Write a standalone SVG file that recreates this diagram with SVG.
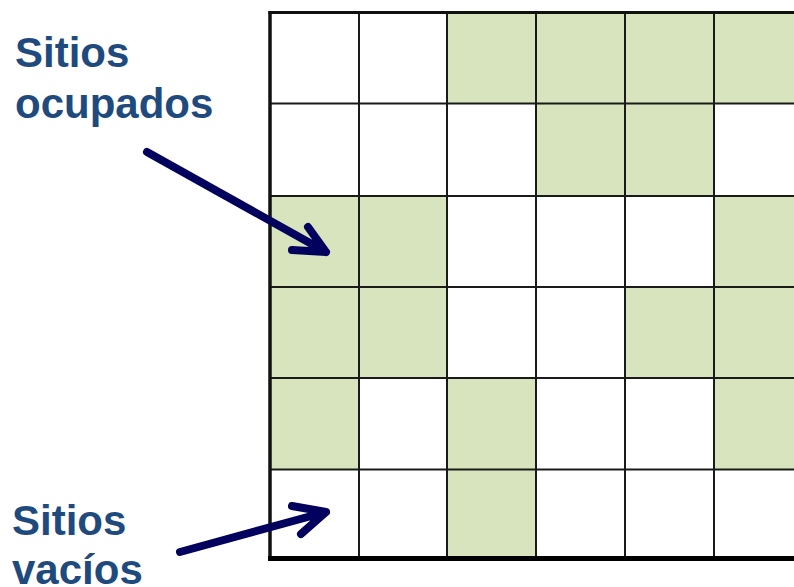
<svg xmlns="http://www.w3.org/2000/svg" width="794" height="587" viewBox="0 0 794 587">
<style>
.g{fill:#d7e4bd}
.ln{stroke:#1a1a1a;stroke-width:2;fill:none}
.lbl{font-family:"Liberation Sans",Arial,sans-serif;font-weight:bold;font-size:42px;fill:#1f4a7e}
.arr{stroke:#02025e;stroke-width:8;fill:none;stroke-linecap:round;stroke-linejoin:round}
</style>
<rect width="794" height="587" fill="#ffffff"/>
<g id="cells">
<rect class="g" x="447" y="12" width="355" height="91.5"/>
<rect class="g" x="536" y="103.5" width="178" height="92.5"/>
<rect class="g" x="270" y="196" width="177" height="182"/>
<rect class="g" x="714" y="196" width="88" height="273.5"/>
<rect class="g" x="625" y="287" width="89" height="91"/>
<rect class="g" x="270" y="378" width="89" height="91.5"/>
<rect class="g" x="447" y="378" width="89" height="180"/>
</g>
<g id="grid">
<line class="ln" x1="359" y1="12" x2="359" y2="558"/>
<line class="ln" x1="447" y1="12" x2="447" y2="558"/>
<line class="ln" x1="536" y1="12" x2="536" y2="558"/>
<line class="ln" x1="625" y1="12" x2="625" y2="558"/>
<line class="ln" x1="714" y1="12" x2="714" y2="558"/>
<line class="ln" x1="270" y1="103.5" x2="802" y2="103.5"/>
<line class="ln" x1="270" y1="196" x2="802" y2="196"/>
<line class="ln" x1="270" y1="287" x2="802" y2="287"/>
<line class="ln" x1="270" y1="378" x2="802" y2="378"/>
<line class="ln" x1="270" y1="469.5" x2="802" y2="469.5"/>
<line stroke="#111" stroke-width="3" x1="268.5" y1="12.5" x2="802" y2="12.5"/>
<line stroke="#111" stroke-width="3.5" x1="270" y1="11" x2="270" y2="561"/>
<line stroke="#000" stroke-width="5" x1="268" y1="558.5" x2="802" y2="558.5"/>
</g>
<g id="label-ocupados">
<text class="lbl" x="15" y="67">Sitios</text>
<text class="lbl" x="15" y="118">ocupados</text>
</g>
<g id="label-vacios">
<text class="lbl" x="12" y="535">Sitios</text>
<text class="lbl" x="12" y="584">vacíos</text>
</g>
<g id="connectors">
<path class="arr" d="M147,152 L326,252 M292,250 L326,252 L308,227"/>
<path class="arr" d="M180,552 L326,512 M292,506 L326,512 L301,534"/>
</g>
</svg>
